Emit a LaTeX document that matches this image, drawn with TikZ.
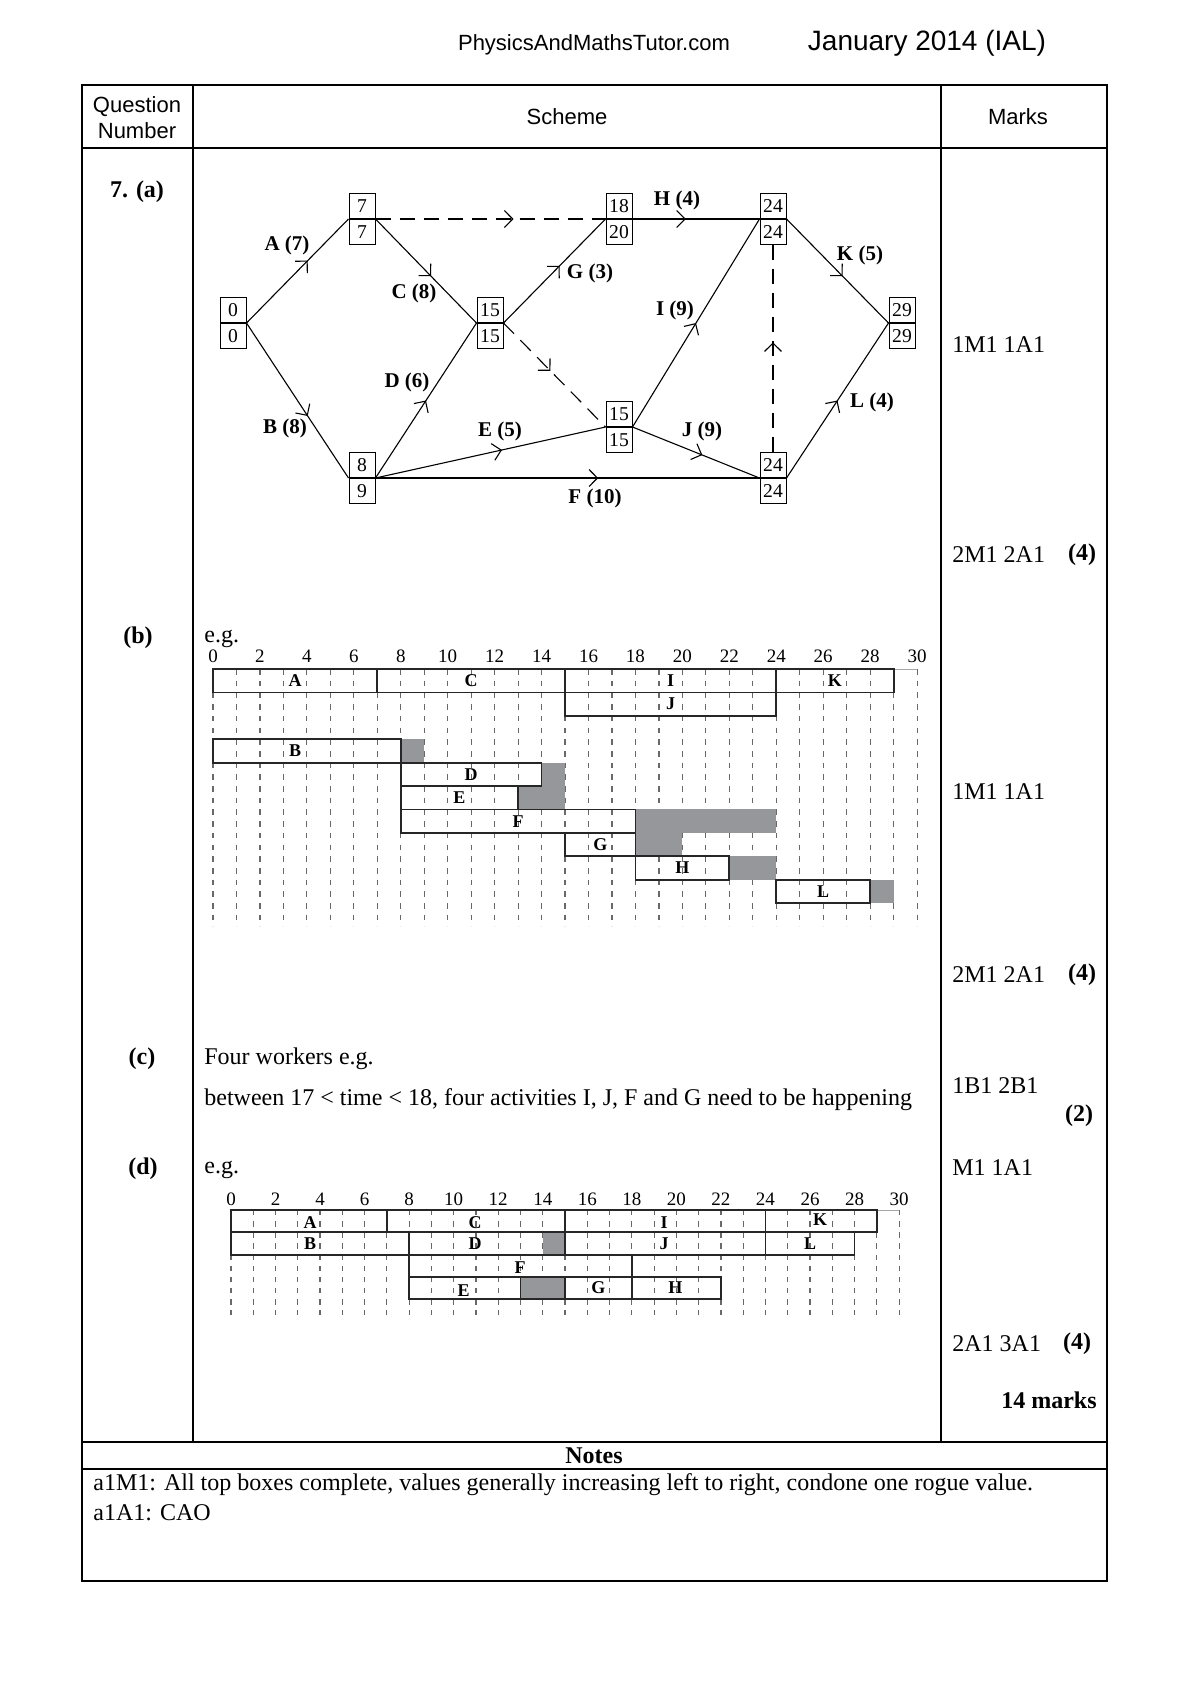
\documentclass[tikz,border=0pt]{standalone}
\usepackage{fontspec}
\setmainfont{Liberation Serif}
\newfontfamily\arialf{Liberation Sans}
\usetikzlibrary{arrows.meta,decorations.markings}
\definecolor{flt}{RGB}{150,151,155}
\definecolor{gridc}{RGB}{105,105,105}
\newcommand\evnode[5]{%
  \node[evbox,anchor=south] (#1) at (#2,#3) {#4};
  \node[evbox,anchor=north] (#1b) at (#2,#3) {#5};}
\begin{document}
\begin{tikzpicture}[x=0.5pt,y=-0.5pt,
  txt/.style={font=\fontsize{12}{14}\selectfont, inner sep=0pt},
  btxt/.style={font=\bfseries\fontsize{12}{14}\selectfont, inner sep=0pt},
  hdr/.style={font=\arialf\fontsize{11}{13}\selectfont, inner sep=0pt, align=center},
  evbox/.style={draw, line width=0.5pt, minimum width=13pt, minimum height=12.6pt, inner sep=0pt, font=\fontsize{9.8}{10}\selectfont},
  act/.style={line width=0.55pt, postaction={decorate},
    decoration={markings, mark=at position #1 with {\arrow{Straight Barb[length=4.2pt,width=8.5pt,line width=0.55pt]}}}},
  act/.default=0.55,
  dum/.style={act=#1, dash pattern=on 7.5pt off 4.5pt},
  dum/.default=0.55,
  lbl/.style={font=\bfseries\fontsize{10.5}{12}\selectfont, inner sep=0pt},
  grd/.style={gridc, line width=0.6pt},
  gbox/.style={line width=0.9pt, black!85},
  glb/.style={font=\bfseries\fontsize{9}{9}\selectfont, inner sep=0pt},
  axn/.style={font=\fontsize{9.5}{10}\selectfont, inner sep=0pt}
]
\useasboundingbox (0,0) rectangle (1190,1683);

% ---------- page header ----------
\node[hdr] (site) at (594,45) {PhysicsAndMathsTutor.com};
\node[hdr, font=\arialf\fontsize{14}{16}\selectfont] (date) at (927,43) {January 2014 (IAL)};

% ---------- table ----------
\draw[line width=0.6pt] (82,85) rectangle (1107,1581);
\draw[line width=0.6pt] (82,148) -- (1107,148);
\draw[line width=0.6pt] (193,85) -- (193,1442);
\draw[line width=0.6pt] (941,85) -- (941,1442);
\draw[line width=0.6pt] (82,1442) -- (1107,1442);
\draw[line width=0.6pt] (82,1469) -- (1107,1469);
\node[hdr] (hq) at (137,118) {Question\\[0pt]Number};
\node[hdr] (hs) at (567,117) {Scheme};
\node[hdr] (hm) at (1018,117) {Marks};

% ---------- part labels ----------
\node[btxt] (pa) at (137,192) {7. (a)};
\node[btxt] (pb) at (138,638) {(b)};
\node[btxt] (pc) at (142,1059) {(c)};
\node[btxt] (pd) at (143,1169) {(d)};

% ---------- marks ----------
\node[txt,anchor=west] (m1) at (952,345) {1M1 1A1};
\node[txt,anchor=west] (m2) at (952,555) {2M1 2A1};
\node[btxt] (m2t) at (1082,555) {(4)};
\node[txt,anchor=west] (m3) at (952,792) {1M1 1A1};
\node[txt,anchor=west] (m4) at (952,975) {2M1 2A1};
\node[btxt] (m4t) at (1082,975) {(4)};
\node[txt,anchor=west] (m5) at (952,1086) {1B1 2B1};
\node[btxt] (m5t) at (1079,1116) {(2)};
\node[txt,anchor=west] (m6) at (952,1168) {M1 1A1};
\node[txt,anchor=west] (m7) at (952,1344) {2A1 3A1};
\node[btxt] (m7t) at (1077,1344) {(4)};
\node[btxt,anchor=east] (m8) at (1097,1400) {14 marks};

% ---------- (a) network ----------
\evnode{e0}{233}{323}{0}{0}
\evnode{ea}{362}{219}{7}{7}
\evnode{eb}{362}{478}{8}{9}
\evnode{ec}{490}{323}{15}{15}
\evnode{ed}{619}{219}{18}{20}
\evnode{ee}{619}{427}{15}{15}
\evnode{ef}{773}{219}{24}{24}
\evnode{eg}{773}{478}{24}{24}
\evnode{eh}{902}{323}{29}{29}

\draw[act=0.6] (e0.south east) -- (ea.south west);
\draw[act=0.6] (e0.south east) -- (eb.south west);
\draw[act=0.55] (ea.south east) -- (ec.south west);
\draw[act=0.5] (eb.south east) -- (ec.south west);
\draw[dum=0.6] (ea.south east) -- (ed.south west);
\draw[act=0.55] (ec.south east) -- (ed.south west);
\draw[dum=0.46] (ec.south east) -- (ee.south west);
\draw[act=0.55] (eb.south east) -- (ee.south west);
\draw[act=0.58] (eb.south east) -- (eg.south west);
\draw[act=0.42] (ed.south east) -- (ef.south west);
\draw[act=0.5] (ee.south east) -- (ef.south west);
\draw[act=0.55] (ee.south east) -- (eg.south west);
\draw[dum=0.53] (eg.north) -- (efb.south);
\draw[act=0.55] (ef.south east) -- (eh.south west);
\draw[act=0.5] (eg.south east) -- (eh.south west);

\node[lbl] (la) at (287,245) {A (7)};
\node[lbl] (lb) at (285,428) {B (8)};
\node[lbl] (lc) at (414,293) {C (8)};
\node[lbl] (ld) at (407,382) {D (6)};
\node[lbl] (lg) at (590,273) {G (3)};
\node[lbl] (le) at (500,431) {E (5)};
\node[lbl] (lf) at (595,498) {F (10)};
\node[lbl] (lh) at (677,200) {H (4)};
\node[lbl] (lk) at (860,255) {K (5)};
\node[lbl] (li) at (675,310) {I (9)};
\node[lbl] (ll) at (872,402) {L (4)};
\node[lbl] (lj) at (702,431) {J (9)};

% ---------- (b) gantt ----------
\node[txt,anchor=west] (egb) at (204,639) {e.g.};
\begin{scope}[shift={(213,669)}, x=11.735pt, y=-11.7pt]
  \draw[gray!70, line width=0.4pt] (0,0) -- (30,0);
  \foreach \i in {0,...,30} \draw[grd, dash pattern=on 2.8pt off 3.05pt] (\i,0) -- (\i,11);
  \foreach \i in {0,2,...,30} \node[axn] at (\i,-0.55) {\i};
  \fill[flt] (8,3) rectangle (9,4);
  \fill[flt] (14,4) rectangle (15,5);
  \fill[flt] (13,5) rectangle (15,6);
  \fill[flt] (18,6) rectangle (24,7);
  \fill[flt] (18,7) rectangle (20,8);
  \fill[flt] (22,8) rectangle (24,9);
  \fill[flt] (28,9) rectangle (29,10);
  \draw[gbox] (0,0) rectangle (7,1) (7,0) rectangle (15,1) (15,0) rectangle (24,1) (24,0) rectangle (29,1);
  \draw[gbox] (15,1) rectangle (24,2);
  \draw[gbox] (0,3) rectangle (8,4);
  \draw[gbox] (8,4) rectangle (14,5);
  \draw[gbox] (8,5) rectangle (13,6);
  \draw[gbox] (8,6) rectangle (18,7);
  \draw[gbox] (15,7) rectangle (18,8);
  \draw[gbox] (18,8) rectangle (22,9);
  \draw[gbox] (24,9) rectangle (28,10);
  \node[glb] (bA) at (3.5,0.5) {A};
  \node[glb] (bC) at (11,0.5) {C};
  \node[glb] (bI) at (19.5,0.5) {I};
  \node[glb] (bK) at (26.5,0.5) {K};
  \node[glb] (bJ) at (19.5,1.5) {J};
  \node[glb] (bB) at (3.5,3.5) {B};
  \node[glb] (bD) at (11,4.5) {D};
  \node[glb] (bE) at (10.5,5.5) {E};
  \node[glb] (bF) at (13,6.5) {F};
  \node[glb] (bG) at (16.5,7.5) {G};
  \node[glb] (bH) at (20,8.5) {H};
  \node[glb] (bL) at (26,9.5) {L};
\end{scope}

% ---------- (c) ----------
\node[txt,anchor=west] (c1) at (204,1059) {Four workers e.g.};
\node[txt,anchor=west] (c2) at (204,1100) {between 17 < time < 18, four activities I, J, F and G need to be happening};

% ---------- (d) gantt ----------
\node[txt,anchor=west] (egd) at (204,1170) {e.g.};
\begin{scope}[shift={(231,1210)}, x=11.135pt, y=-11.15pt]
  \draw[gray!70, line width=0.4pt] (0,0) -- (30,0);
  \foreach \i in {0,...,30} \draw[grd, dash pattern=on 2.7pt off 2.875pt] (\i,0) -- (\i,4.7);
  \foreach \i in {0,2,...,30} \node[axn] at (\i,-0.5) {\i};
  \fill[flt] (14,1) rectangle (15,2);
  \fill[flt] (13,3) rectangle (15,4);
  \draw[gbox] (0,0) rectangle (7,1) (7,0) rectangle (15,1) (15,0) rectangle (24,1) (24,0) rectangle (29,1);
  \draw[gbox] (0,1) rectangle (8,2) (8,1) rectangle (15,2) (15,1) rectangle (24,2) (24,1) rectangle (28,2);
  \draw[gbox] (8,2) rectangle (18,4);
  \draw[gbox] (8,3) rectangle (13,4);
  \draw[gbox] (15,3) rectangle (18,4);
  \draw[gbox] (18,3) rectangle (22,4);
  \draw[gbox] (8,3) -- (22,3);
  \node[glb] (dA) at (3.55,0.55) {A};
  \node[glb] (dC) at (10.96,0.55) {C};
  \node[glb] (dI) at (19.45,0.55) {I};
  \node[glb] (dK) at (26.45,0.45) {K};
  \node[glb] (dB) at (3.55,1.5) {B};
  \node[glb] (dD) at (10.96,1.5) {D};
  \node[glb] (dJ) at (19.45,1.5) {J};
  \node[glb] (dL) at (26,1.5) {L};
  \node[glb] (dF) at (12.98,2.6) {F};
  \node[glb] (dE) at (10.45,3.6) {E};
  \node[glb] (dG) at (16.5,3.5) {G};
  \node[glb] (dH) at (19.95,3.5) {H};
\end{scope}

% ---------- notes ----------
\node[btxt] (notes) at (594,1456) {Notes};
\node[txt,anchor=west] (n1) at (93,1485) {a1M1: All top boxes complete, values generally increasing left to right, condone one rogue value.};
\node[txt,anchor=west] (n2) at (93,1513) {a1A1: CAO};
\end{tikzpicture}
\end{document}
